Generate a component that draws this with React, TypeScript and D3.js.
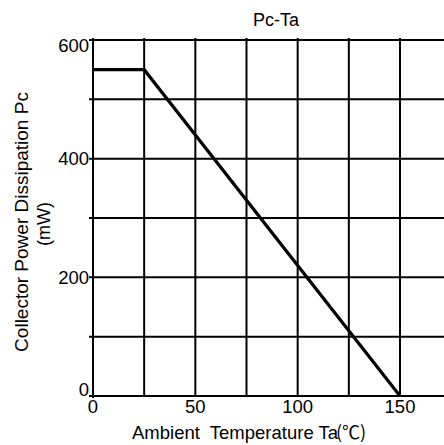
import React from "react";
import * as d3 from "d3";

const temps = [0, 25, 150];
const power = [550, 550, 0];
const xTickValues = [0, 50, 100, 150];
const xGridValues = [0, 25, 50, 75, 100, 125, 150];
const yTickValues = [0, 200, 400, 600];
const yGridValues = [0, 100, 200, 300, 400, 500, 600];
const title = "Pc-Ta";
const xLabel = "Ambient\u00a0 Temperature Ta";
const xUnit = "(\u2103)";
const yLabel1 = "Collector Power Dissipation Pc";
const yLabel2 = "(mW)";

const W = 444;
const H = 445;
const FONT = "'Liberation Sans', Arial, Helvetica, sans-serif";

export default function App() {
  const x = d3.scaleLinear().domain([0, 150]).range([93, 400]);
  const y = d3.scaleLinear().domain([0, 600]).range([396, 40]);
  const xMax = 180;
  const data = temps.map((t, i) => ({ t, p: power[i] }));
  const line = d3
    .line<{ t: number; p: number }>()
    .x((d) => x(d.t))
    .y((d) => y(d.p));

  const top = y(600);
  const bottom = y(0);
  const left = x(0);
  const right = x(xMax);

  return (
    <svg
      width={W}
      height={H}
      style={{ position: "absolute", left: 0, top: 0, background: "#fff" }}
      fontFamily={FONT}
    >
      <rect x={0} y={0} width={W} height={H} fill="#fff" />
      {/* horizontal grid */}
      {yGridValues.map((v) => (
        <line
          key={"h" + v}
          x1={left - 4}
          x2={right}
          y1={y(v)}
          y2={y(v)}
          stroke="#000"
          strokeWidth={2}
        />
      ))}
      {/* vertical grid */}
      {xGridValues.map((v) => (
        <line
          key={"v" + v}
          x1={x(v)}
          x2={x(v)}
          y1={top - 2}
          y2={bottom + (v === 0 ? 2 : 0)}
          stroke="#000"
          strokeWidth={2}
        />
      ))}
      {/* data line */}
      <path
        d={line(data) || ""}
        fill="none"
        stroke="#000"
        strokeWidth={3.2}
        strokeLinejoin="miter"
      />
      {/* title */}
      <text x={276} y={26} textAnchor="middle" fontSize={18} fill="#000">
        {title}
      </text>
      {/* y tick labels */}
      {yTickValues.map((v) => {
        let by = y(v) + 6.5;
        if (by > bottom) by = bottom;
        if (by < top + 12) by = top + 12;
        return (
          <text
            key={"yt" + v}
            x={89}
            y={by}
            textAnchor="end"
            fontSize={18.5}
            fill="#000"
          >
            {v}
          </text>
        );
      })}
      {/* x tick labels */}
      {xTickValues.map((v) => (
        <text
          key={"xt" + v}
          x={x(v)}
          y={413}
          textAnchor="middle"
          fontSize={18.5}
          fill="#000"
        >
          {v}
        </text>
      ))}
      {/* x axis label */}
      <text x={132} y={439} fontSize={18.5} fill="#000" style={{ whiteSpace: "pre" }}>
        {xLabel}
        <tspan dx={-2} fontFamily="'Noto Sans CJK SC', sans-serif" fontSize={18}>
          {xUnit}
        </tspan>
      </text>
      {/* y axis label */}
      <text
        transform={`translate(27.5, 222) rotate(-90)`}
        textAnchor="middle"
        fontSize={19}
        fill="#000"
      >
        {yLabel1}
      </text>
      <text
        transform={`translate(50, 224) rotate(-90)`}
        textAnchor="middle"
        fontSize={18}
        fill="#000"
      >
        {yLabel2}
      </text>
    </svg>
  );
}
